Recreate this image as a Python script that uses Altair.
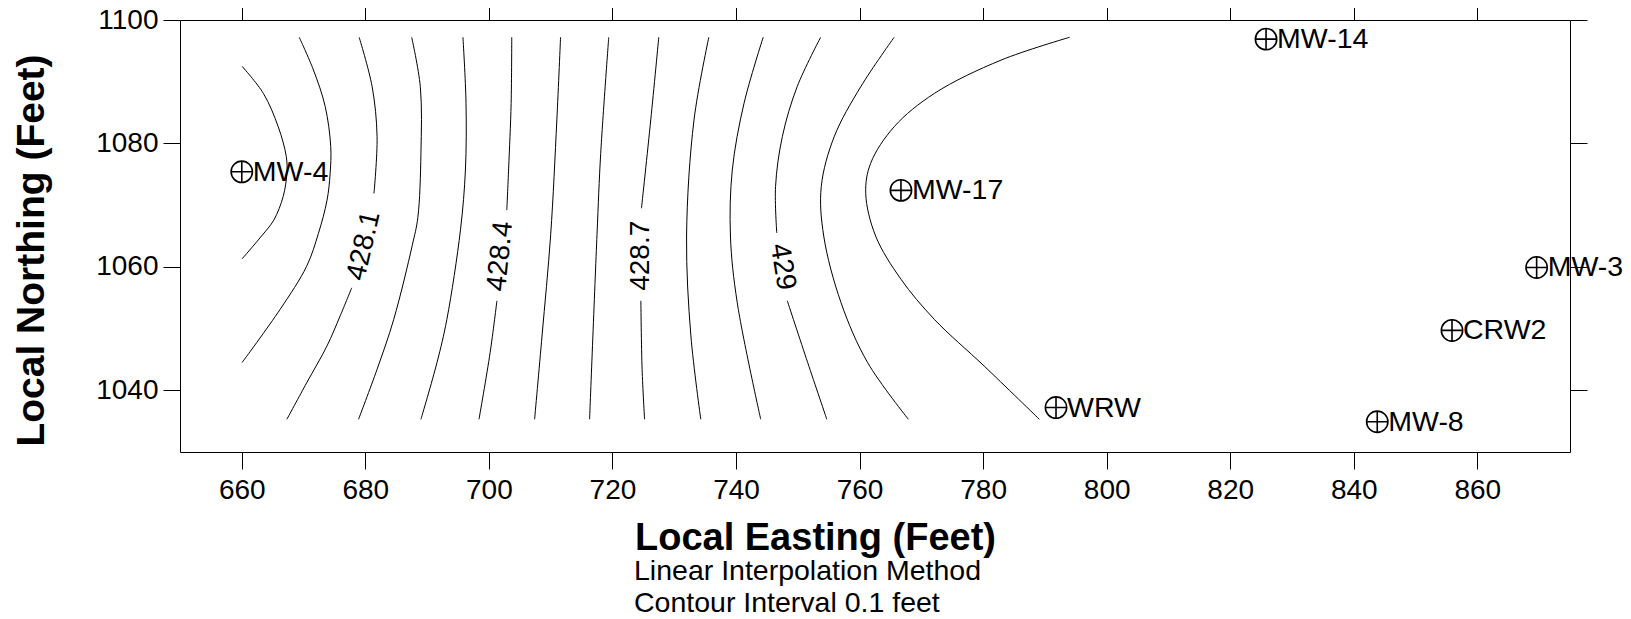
import altair as alt
import pandas as pd

FONT = "Liberation Sans"

# ---- axis ticks ----
x_ticks = [660, 680, 700, 720, 740, 760, 780, 800, 820, 840, 860]
y_ticks = [1040, 1060, 1080, 1100]

# ---- wells ----
well_names = ["MW-4", "MW-17", "MW-14", "MW-3", "CRW2", "WRW", "MW-8"]
well_easting = [660.0, 766.7, 825.8, 869.6, 855.9, 791.8, 843.8]
well_northing = [1075.4, 1072.4, 1096.9, 1059.9, 1049.7, 1037.2, 1034.9]

# ---- contour segments (easting / northing), level 427.9 .. 429.2 ----
c4279_e = [660.05, 663.5, 665.9, 667.2, 667.3, 666.7, 665.2, 663.2, 660.05]
c4279_n = [1092.5, 1088.1, 1082.7, 1077.9, 1075.1, 1071.4, 1067.6, 1065.0, 1061.3]

c4280_e = [669.3, 671.6, 673.5, 674.4, 674.3, 673.8, 672.4, 670.5, 666.2, 660.05]
c4280_n = [1097.2, 1091.9, 1086.0, 1079.5, 1075.1, 1070.8, 1065.4, 1060.1, 1053.1, 1044.5]

c4281a_e = [679.0, 681.1, 681.9, 681.4]
c4281a_n = [1097.2, 1089.2, 1081.1, 1071.9]
c4281b_e = [677.8, 675.9, 673.8, 670.5, 667.3]
c4281b_n = [1056.6, 1052.0, 1047.2, 1041.2, 1035.3]

c4282_e = [687.5, 688.9, 689.0, 688.5, 687.6, 684.6, 681.9, 678.9]
c4282_n = [1097.2, 1089.2, 1078.4, 1068.0, 1063.5, 1051.5, 1043.4, 1035.3]

c4283_e = [695.8, 696.3, 696.2, 695.4, 693.2, 691.6, 689.0]
c4283_n = [1097.2, 1086.5, 1075.7, 1066.0, 1051.5, 1044.5, 1035.3]

c4284a_e = [703.7, 703.6, 703.2, 702.9]
c4284a_n = [1097.2, 1086.5, 1076.0, 1069.2]
c4284b_e = [701.3, 700.2, 698.4]
c4284b_n = [1054.5, 1046.1, 1035.3]

c4285_e = [711.6, 711.0, 710.0, 708.6, 707.4]
c4285_n = [1097.2, 1083.8, 1065.2, 1048.8, 1035.3]

c4286_e = [719.4, 718.1, 717.5, 716.3]
c4286_n = [1097.2, 1078.4, 1065.2, 1035.3]

c4287a_e = [727.5, 726.2, 724.7]
c4287a_n = [1097.2, 1083.8, 1069.5]
c4287b_e = [724.6, 724.8, 725.2]
c4287b_n = [1054.5, 1043.4, 1035.3]

c4288_e = [735.6, 733.2, 732.0, 732.7, 734.3]
c4288_n = [1097.2, 1083.8, 1065.0, 1048.8, 1035.3]

c4289_e = [744.4, 741.3, 739.4, 739.1, 740.2, 744.0]
c4289_n = [1097.2, 1086.5, 1075.7, 1065.0, 1054.2, 1035.3]

c4290a_e = [753.7, 749.9, 747.5, 746.4, 746.6]
c4290a_n = [1097.2, 1089.2, 1081.1, 1073.0, 1065.5]
c4290b_e = [748.3, 751.6, 754.7]
c4290b_n = [1054.5, 1044.5, 1035.3]

c4291_e = [765.6, 760.2, 755.9, 753.8, 754.2, 757.0, 761.3, 767.9]
c4291_n = [1097.2, 1089.2, 1081.1, 1073.0, 1065.0, 1054.2, 1044.5, 1035.3]

c4292_e = [794.0, 782.9, 772.1, 765.6, 761.8, 761.0, 762.6, 766.7, 772.1, 780.2, 789.1]
c4292_n = [1097.2, 1093.5, 1088.1, 1082.7, 1076.8, 1071.9, 1065.0, 1058.0, 1051.5, 1043.9, 1035.3]

segments = [
    ("427.9", c4279_e, c4279_n), ("428.0", c4280_e, c4280_n),
    ("428.1a", c4281a_e, c4281a_n), ("428.1b", c4281b_e, c4281b_n),
    ("428.2", c4282_e, c4282_n), ("428.3", c4283_e, c4283_n),
    ("428.4a", c4284a_e, c4284a_n), ("428.4b", c4284b_e, c4284b_n),
    ("428.5", c4285_e, c4285_n), ("428.6", c4286_e, c4286_n),
    ("428.7a", c4287a_e, c4287a_n), ("428.7b", c4287b_e, c4287b_n),
    ("428.8", c4288_e, c4288_n), ("428.9", c4289_e, c4289_n),
    ("429.0a", c4290a_e, c4290a_n), ("429.0b", c4290b_e, c4290b_n),
    ("429.1", c4291_e, c4291_n), ("429.2", c4292_e, c4292_n),
]

# ---- contour labels ----
label_text = ["428.1", "428.4", "428.7", "429"]
label_easting = [679.8, 701.9, 724.6, 747.5]
label_northing = [1063.4, 1061.7, 1061.8, 1060.0]
label_angle = [283, 276, 270, 81]

subtitle_lines = ["Linear Interpolation Method", "Contour Interval 0.1 feet"]

# ---- build tables ----
rows = []
for seg, es, ns in segments:
    for i, (e, n) in enumerate(zip(es, ns)):
        rows.append({"seg": seg, "idx": i, "e": e, "n": n})
cdf = pd.DataFrame(rows)
wdf = pd.DataFrame({"name": well_names, "e": well_easting, "n": well_northing})
ldf = pd.DataFrame({"t": label_text, "e": label_easting, "n": label_northing, "ang": label_angle})

xs = alt.Scale(domain=[650, 875], nice=False, zero=False)
ys = alt.Scale(domain=[1030, 1100], nice=False, zero=False)

common = dict(tickSize=17, tickColor="black", tickWidth=1, domainColor="black", domainWidth=1,
              grid=False, labelFont=FONT, labelFontSize=28, labelColor="black", format="d")

x_bottom = alt.Axis(values=x_ticks, orient="bottom", title="Local Easting (Feet)", titleFont=FONT,
                    titleFontSize=38, titleFontWeight="bold", titleColor="black", titleX=635, titleY=97,
                    titleBaseline="alphabetic", titleAlign="center", labelPadding=7, **common)
y_left = alt.Axis(values=y_ticks, orient="left", title="Local Northing (Feet)", titleFont=FONT,
                  titleFontSize=39, titleFontWeight="bold", titleColor="black", titleAngle=270,
                  titleX=-137, titleY=230, titleAlign="center", titleBaseline="alphabetic",
                  labelPadding=5, **common)
x_top = alt.Axis(values=x_ticks, orient="top", labels=False, title=None, **common)
y_right = alt.Axis(values=y_ticks, orient="right", labels=False, title=None, **common)

contours = alt.Chart(cdf).mark_line(color="black", strokeWidth=1, interpolate="catmull-rom").encode(
    x=alt.X("e:Q", scale=xs, axis=x_bottom),
    y=alt.Y("n:Q", scale=ys, axis=y_left),
    detail="seg:N",
    order="idx:Q",
)

circles = alt.Chart(wdf).mark_point(shape="circle", filled=False, size=454, strokeWidth=1.6,
                                     color="black", opacity=1).encode(
    x=alt.X("e:Q", scale=xs, axis=x_top),
    y=alt.Y("n:Q", scale=ys, axis=y_right),
)
crosses = alt.Chart(wdf).mark_point(shape="M-1,0L1,0M0,-1L0,1", filled=False, size=454,
                                     strokeWidth=1.6, color="black", opacity=1).encode(
    x=alt.X("e:Q", scale=xs, axis=None),
    y=alt.Y("n:Q", scale=ys, axis=None),
)
well_labels = alt.Chart(wdf).mark_text(align="left", baseline="middle", dx=11, font=FONT,
                                        fontSize=28.5, color="black").encode(
    x=alt.X("e:Q", scale=xs, axis=None),
    y=alt.Y("n:Q", scale=ys, axis=None),
    text="name:N",
)
contour_labels = alt.Chart(ldf).mark_text(align="center", baseline="middle", font=FONT,
                                           fontSize=28, color="black").encode(
    x=alt.X("e:Q", scale=xs, axis=None),
    y=alt.Y("n:Q", scale=ys, axis=None),
    text="t:N",
    angle=alt.Angle("ang:Q", scale=None),
)
sub1 = alt.Chart(pd.DataFrame({"t": [subtitle_lines[0]]})).mark_text(
    align="left", baseline="alphabetic", font=FONT, fontSize=28.5, color="black").encode(
    x=alt.value(454), y=alt.value(560), text="t:N")
sub2 = alt.Chart(pd.DataFrame({"t": [subtitle_lines[1]]})).mark_text(
    align="left", baseline="alphabetic", font=FONT, fontSize=28.5, color="black").encode(
    x=alt.value(454), y=alt.value(592), text="t:N")

chart = alt.layer(contours, circles, crosses, well_labels, contour_labels, sub1, sub2).resolve_axis(
    x="independent", y="independent"
).properties(
    width=1390, height=432,
    autosize=alt.AutoSizeParams(type="none"),
    padding={"left": 172, "top": 12, "right": 53, "bottom": 172},
    background="white",
).configure_view(stroke=None)

chart.save("out.html", embed_options={"renderer": "svg", "actions": False})
